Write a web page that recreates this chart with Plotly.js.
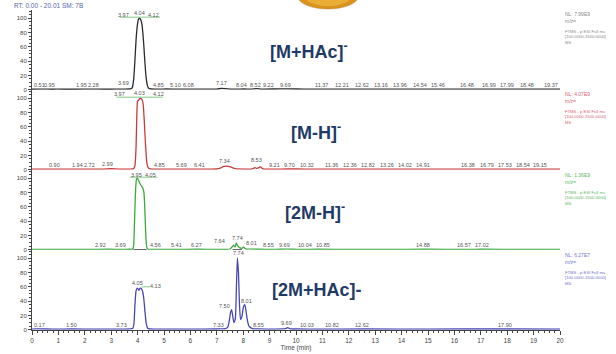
<!DOCTYPE html>
<html>
<head>
<meta charset="utf-8">
<script src="https://cdn.plot.ly/plotly-3.0.1.min.js"></script>
<style>html,body{margin:0;padding:0;background:#fff;}#chart{width:616px;height:354px;}</style>
</head>
<body>
<div id="chart"></div>
<script>
// ---------- DATA ----------
// Panel 1: [M+HAc]-
const times1 = [0, 0.3, 0.51, 0.7, 0.95, 1.4, 1.95, 2.28, 2.7, 3.2, 3.5, 3.69, 3.75, 3.8, 3.85, 3.9, 3.95, 4.0, 4.04, 4.08, 4.12, 4.17, 4.22, 4.27, 4.32, 4.37, 4.42, 4.5, 4.85, 5.1, 5.5, 6.08, 6.6, 7.0, 7.17, 7.35, 7.6, 8.04, 8.3, 8.52, 8.7, 9.22, 9.69, 10.3, 11.37, 12.21, 12.62, 13.16, 13.96, 14.54, 15.46, 16.48, 16.99, 17.99, 18.48, 19.37, 20];
const intens1 = [0.6, 0.7, 0.8, 0.6, 0.7, 0.6, 0.7, 0.8, 0.6, 0.7, 0.8, 1.0, 1.5, 3, 14, 42, 74, 93, 99, 100, 98, 90, 70, 42, 18, 6, 2, 1, 0.9, 1.0, 0.7, 0.8, 0.7, 0.9, 1.8, 1.4, 0.8, 1.0, 0.8, 1.6, 0.9, 1.0, 1.1, 0.8, 0.9, 0.8, 0.9, 0.8, 0.9, 0.8, 0.9, 0.8, 0.9, 0.8, 0.9, 0.8, 0.7];
// Panel 2: [M-H]-
const times2 = [0, 0.9, 1.5, 1.94, 2.4, 2.72, 2.99, 3.3, 3.7, 3.85, 3.9, 3.94, 3.97, 4.0, 4.03, 4.07, 4.12, 4.17, 4.21, 4.25, 4.3, 4.35, 4.4, 4.48, 4.85, 5.69, 6.41, 7.0, 7.15, 7.25, 7.34, 7.45, 7.55, 7.7, 8.0, 8.35, 8.45, 8.5, 8.58, 8.65, 8.75, 9.21, 9.7, 10.32, 11.36, 12.36, 12.82, 13.26, 14.02, 14.91, 16.38, 16.79, 17.53, 18.54, 19.15, 20];
const intens2 = [0.8, 0.9, 0.8, 0.9, 0.8, 0.9, 1.3, 0.8, 0.9, 1.5, 6, 30, 75, 96, 97, 99, 100, 98, 92, 70, 35, 10, 3, 1.2, 0.9, 0.8, 0.9, 1.0, 2.5, 4.5, 5, 4.8, 3.5, 1.5, 0.9, 1.2, 3, 2, 2.5, 4, 1.2, 0.9, 1.0, 0.9, 0.8, 0.9, 0.8, 0.9, 0.8, 0.9, 0.8, 0.9, 0.8, 0.9, 0.8, 0.8];
// Panel 3: [2M-H]-
const times3 = [0, 1, 2, 2.92, 3.4, 3.69, 3.8, 3.84, 3.88, 3.92, 3.96, 4.0, 4.05, 4.1, 4.15, 4.2, 4.24, 4.27, 4.3, 4.33, 4.36, 4.42, 4.56, 5.41, 6.27, 7.0, 7.5, 7.58, 7.64, 7.69, 7.74, 7.8, 7.88, 7.95, 8.01, 8.1, 8.3, 8.55, 9.2, 9.69, 10.04, 10.85, 12, 13.5, 14.88, 16.57, 17.02, 18.5, 20];
const intens3 = [0.5, 0.5, 0.5, 0.6, 0.5, 0.6, 0.8, 3, 35, 80, 99, 100, 96, 92, 89, 86, 80, 60, 30, 8, 2, 0.6, 0.5, 0.5, 0.6, 0.5, 1, 4, 6, 4, 9, 5, 2.5, 2, 3.5, 1.2, 0.8, 0.6, 0.5, 0.8, 0.5, 0.6, 0.5, 0.5, 0.6, 0.5, 0.6, 0.5, 0.5];
const base3X = [3.84, 4.34, null, 7.6, 7.95];
const base3Y = [0.3, 0.3, null, 0.3, 0.3];
// Panel 4: [2M+HAc]-
const times4 = [0, 0.17, 0.8, 1.5, 2.5, 3.3, 3.73, 3.82, 3.86, 3.9, 3.94, 3.98, 4.02, 4.05, 4.09, 4.13, 4.18, 4.23, 4.28, 4.33, 4.38, 4.45, 5, 6, 7, 7.33, 7.42, 7.47, 7.52, 7.56, 7.6, 7.65, 7.7, 7.74, 7.78, 7.82, 7.86, 7.9, 7.95, 8.01, 8.06, 8.1, 8.15, 8.22, 8.35, 8.55, 9.2, 9.6, 9.69, 9.78, 10.03, 10.82, 12.62, 15, 17.9, 20];
const intens4 = [0.8, 1.2, 0.8, 1.0, 0.8, 0.9, 1.2, 2, 8, 35, 54, 58, 57, 55, 58, 58, 55, 45, 25, 8, 2, 1, 0.8, 0.9, 1.0, 1.5, 4, 12, 24, 28, 20, 10, 15, 55, 100, 80, 35, 14, 18, 32, 35, 28, 15, 5, 1.5, 1.2, 0.9, 1.5, 3, 1.2, 1.0, 0.9, 1.0, 0.9, 1.0, 0.8];

// Peak labels (text), their drawn positions (minutes) and heights (relative abundance)
const labels1 = ["0.51","0.95","1.95","2.28","3.69","4.85","5.10","6.08","7.17","8.04","8.52","9.22","9.69","11.37","12.21","12.62","13.16","13.96","14.54","15.46","16.48","16.99","17.99","18.48","19.37","3.97","4.04","4.12"];
const labels1X = [0.3, 0.66, 1.86, 2.34, 3.46, 4.81, 5.42, 5.91, 7.17, 7.95, 8.48, 8.97, 9.62, 10.98, 11.74, 12.5, 13.22, 13.94, 14.7, 15.38, 16.48, 17.31, 17.99, 18.75, 19.66, 3.48, 4.06, 4.62];
const labels1Y = [7,7,7,7,10,7,7,7,9,7,7,7,7,7,7,7,7,7,7,7,7,7,7,7,7,104.6,106.7,104.6];

const labels2 = ["0.90","1.94","2.72","2.99","4.85","5.69","6.41","7.34","8.53","9.21","9.70","10.32","11.36","12.36","12.82","13.26","14.02","14.91","16.38","16.79","17.53","18.54","19.15","3.97","4.03","4.12"];
const labels2X = [0.87, 1.72, 2.16, 2.85, 4.82, 5.67, 6.34, 7.28, 8.51, 9.2, 9.77, 10.4, 11.35, 12.05, 12.74, 13.43, 14.13, 14.82, 16.53, 17.22, 17.92, 18.59, 19.24, 3.3, 4.09, 4.78];
const labels2Y = [6,6,6,8,6,6,6,12,14,6,6,6,6,6,6,6,6,6,6,6,6,6,6,106,107,106];

const labels3 = ["2.92","3.69","4.56","5.41","6.27","7.64","7.74","8.01","8.55","9.69","10.04","10.85","14.88","16.57","17.02","3.95","4.05"];
const labels3X = [2.6, 3.37, 4.66, 5.48, 6.24, 7.12, 7.78, 8.32, 8.95, 9.58, 10.35, 11.03, 14.82, 16.36, 17.03, 3.97, 4.47];
const labels3Y = [6,6,6,6,6,12,16,9,6,6,6,6,6,6,6,105,104];

const labels4 = ["0.17","1.50","3.73","4.05","4.13","7.33","7.50","7.74","8.01","8.55","9.69","10.03","10.82","12.62","17.90"];
const labels4X = [0.3, 1.5, 3.4, 3.99, 4.66, 7.06, 7.31, 7.81, 8.13, 8.57, 9.65, 10.4, 11.35, 12.51, 17.92];
const labels4Y = [6, 6, 6, 65, 61, 6, 33, 108, 40, 6, 10, 6, 6, 6, 6];

const ionNames = ["[M+HAc]<sup>-</sup>", "[M-H]<sup>-</sup>", "[2M-H]<sup>-</sup>", "[2M+HAc]-"];
const nlTexts = ["NL: 7.99E9", "NL: 4.07E9", "NL: 1.36E9", "NL: 6.27E7"];
const mzLine = "m/z=";
const scanLines = ["FTMS - p ESI Full ms", "[100.0000-1500.0000]", "MS"];
const xTickVals = [0,1,2,3,4,5,6,7,8,9,10,11,12,13,14,15,16,17,18,19,20];
const yTickVals = [0,20,40,60,80,100];

// ---------- LAYOUT HELPERS ----------
const W = 616, H = 354, ML = 32, MR = 56;
const PW = W - ML - MR;
const px2x = p => (p - ML) / PW;
const px2y = p => 1 - p / H;

const traceColors = ["#2a2a2a", "#c83a3a", "#3aa83a", "#4646b4"];
const infoColors = ["#8a8a8a", "#d86070", "#5cb85c", "#7474c8"];
const zeroPx = [89.7, 169.7, 249.7, 329.7];
const yMax = 112;

const yAxisNames = ["y", "y2", "y3", "y4"];
const series = [[times1, intens1], [times2, intens2], [times3, intens3], [times4, intens4]];

const traces = series.map((s, i) => ({
  x: s[0], y: s[1], type: "scatter", mode: "lines",
  xaxis: "x", yaxis: yAxisNames[i],
  line: {color: traceColors[i], width: 1.3, shape: "spline", smoothing: 0.6},
  hoverinfo: "skip"
}));
traces.push({x: base3X, y: base3Y, type: "scatter", mode: "lines", xaxis: "x", yaxis: "y3",
  line: {color: "#333", width: 1.2}, hoverinfo: "skip"});

const layout = {
  width: W, height: H,
  margin: {l: ML, r: MR, t: 0, b: 0},
  paper_bgcolor: "#ffffff", plot_bgcolor: "rgba(0,0,0,0)",
  showlegend: false,
  font: {family: "Liberation Sans, Arial, sans-serif", color: "#444"},
  xaxis: {
    domain: [0, 1], range: [0, 20], anchor: "y4",
    tickmode: "array", tickvals: xTickVals,
    ticks: "outside", ticklen: 4, tickcolor: "#444", tickwidth: 1,
    showline: true, linecolor: "#444", linewidth: 1,
    showgrid: false, zeroline: false,
    tickfont: {size: 6.5, color: "#444"},
    minor: {tickmode: "linear", tick0: 0, dtick: 0.2, ticks: "outside", ticklen: 2.5, tickcolor: "#444", showgrid: false},
    title: {text: "Time (min)", font: {size: 6.5, color: "#444"}, standoff: 2},
    automargin: false
  },
  annotations: [],
  shapes: []
};

for (let i = 0; i < 4; i++) {
  const key = i === 0 ? "yaxis" : "yaxis" + (i + 1);
  const bot = zeroPx[i], top = zeroPx[i] - 80;
  layout[key] = {
    domain: [px2y(bot), px2y(top)], range: [0, yMax], anchor: "x",
    tickmode: "array", tickvals: yTickVals,
    ticks: "outside", ticklen: 3, tickcolor: "#444",
    showline: true, linecolor: "#444", linewidth: 1,
    showgrid: false, zeroline: false,
    tickfont: {size: 6, color: "#444"},
    minor: {tickmode: "linear", tick0: 0, dtick: 5, ticks: "outside", ticklen: 1.8, tickcolor: "#444", showgrid: false},
    automargin: false
  };
}

// peak labels
const allLabels = [[labels1, labels1X, labels1Y], [labels2, labels2X, labels2Y], [labels3, labels3X, labels3Y], [labels4, labels4X, labels4Y]];
allLabels.forEach((L, i) => {
  L[0].forEach((t, j) => {
    layout.annotations.push({
      text: t, x: L[1][j], y: L[2][j], xref: "x", yref: yAxisNames[i],
      showarrow: false, xanchor: "center", yanchor: "middle",
      font: {size: 5.5, color: "#555"}
    });
  });
});

// big ion labels
const ionPos = [[268, 50], [289, 131], [283, 211], [270, 290]];
ionNames.forEach((t, i) => {
  layout.annotations.push({
    text: "<b>" + t + "</b>", xref: "paper", yref: "paper",
    x: px2x(ionPos[i][0]), y: px2y(ionPos[i][1]),
    xanchor: "left", yanchor: "middle", showarrow: false,
    font: {size: 18, color: "#1f3a66", family: "Liberation Sans, Arial, sans-serif"}
  });
});

// right side scan info
const nlPx = [9, 89, 170, 250];
nlTexts.forEach((t, i) => {
  layout.annotations.push({text: t + "<br>" + mzLine, xref: "paper", yref: "paper", x: px2x(563), y: px2y(nlPx[i]),
    xanchor: "left", yanchor: "top", align: "left", showarrow: false, font: {size: 5, color: infoColors[i]}});
  layout.annotations.push({text: scanLines.join("<br>"), xref: "paper", yref: "paper", x: px2x(563), y: px2y(nlPx[i] + 18),
    xanchor: "left", yanchor: "top", align: "left", showarrow: false, font: {size: 4.2, color: infoColors[i]}});
});

// header
layout.annotations.push({text: "RT: 0.00 - 20.01 SM: 7B", xref: "paper", yref: "paper",
  x: px2x(12), y: px2y(5), xanchor: "left", yanchor: "middle", showarrow: false,
  font: {size: 6.5, color: "#5566aa"}});

// green peak markers
const greenMarks = [["y", 3.33, 4.85, 101.5], ["y2", 3.2, 4.95, 101.5], ["y3", 3.7, 4.75, 101.5], ["y4", 4.15, 4.47, 60]];
greenMarks.forEach(g => {
  layout.shapes.push({type: "line", xref: "x", yref: g[0], x0: g[1], x1: g[2], y0: g[3], y1: g[3],
    line: {color: "#66bb66", width: 0.8}});
});

// orange blob at top
layout.shapes.push({type: "circle", xref: "paper", yref: "paper",
  x0: px2x(298), x1: px2x(358), y0: px2y(9), y1: px2y(-16),
  fillcolor: "#d99420", line: {color: "#c08020", width: 0.5}, layer: "above"});
layout.shapes.push({type: "circle", xref: "paper", yref: "paper",
  x0: px2x(304), x1: px2x(352), y0: px2y(6), y1: px2y(-16),
  fillcolor: "#eaad35", line: {width: 0}, layer: "above"});

Plotly.newPlot("chart", traces, layout, {staticPlot: true, displayModeBar: false});
</script>
</body>
</html>
